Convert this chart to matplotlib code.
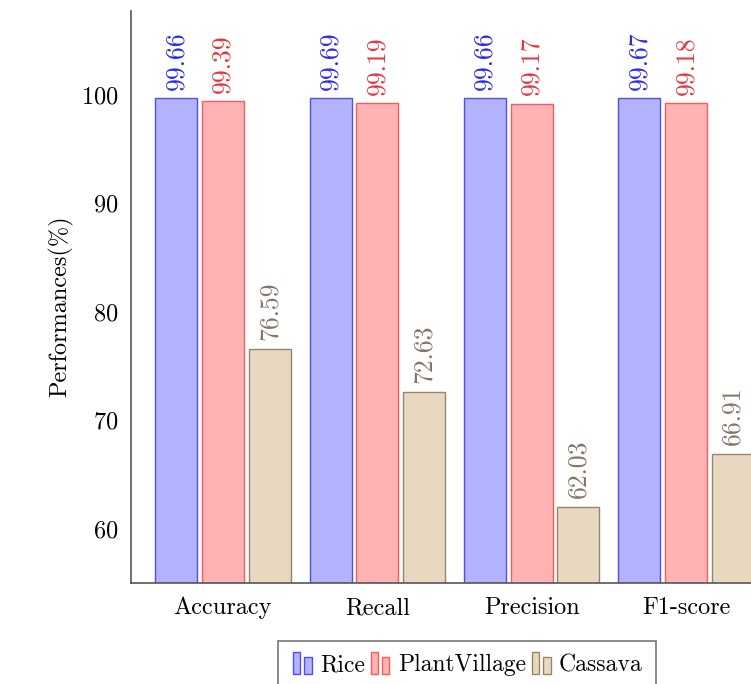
import matplotlib
matplotlib.use("Agg")
import matplotlib.pyplot as plt
import numpy as np
from matplotlib.legend_handler import HandlerBase
from matplotlib.patches import Rectangle

metrics = ["Accuracy", "Recall", "Precision", "F1-score"]
series_names = ["Rice", "PlantVillage", "Cassava"]
rice = [99.66, 99.69, 99.66, 99.67]
plantvillage = [99.39, 99.19, 99.17, 99.18]
cassava = [76.59, 72.63, 62.03, 66.91]

FILLS = ["#b3b3ff", "#ffb3b3", "#e8d8c2"]
EDGES = ["#4d4dff", "#ff5a5a", "#9a8466"]
LABEL_COLORS = ["#2a2ae6", "#e8323c", "#857565"]

plt.rcParams["font.family"] = ["cmr10", "DejaVu Serif"]
plt.rcParams["axes.formatter.use_mathtext"] = True
plt.rcParams["font.size"] = 17


class TwoBarHandler(HandlerBase):
    """pgfplots-style ybar legend icon: two small bars."""

    def create_artists(self, legend, orig_handle, xdescent, ydescent, width, height, fontsize, trans):
        fc = orig_handle.get_facecolor()
        ec = orig_handle.get_edgecolor()
        w = width * 0.3
        arts = []
        for x0, h in ((0.05, 1.3), (0.55, 1.0)):
            r = Rectangle((x0 * width - xdescent, -ydescent - 0.15 * height), w, height * h,
                          facecolor=fc, edgecolor=ec, linewidth=1.0, transform=trans)
            arts.append(r)
        return arts


fig = plt.figure(figsize=(7.51, 6.84), dpi=100, facecolor="white")
ax = fig.add_axes([131 / 751, 101 / 684, 647 / 751, 572 / 684])

x = np.arange(len(metrics))
step = 0.303
width = 0.272
handles = []
for i, (vals, name) in enumerate(zip([rice, plantvillage, cassava], series_names)):
    pos = x + (i - 1) * step
    bars = ax.bar(pos, vals, width=width, color=FILLS[i], edgecolor=EDGES[i],
                  linewidth=1.0, label=name)
    handles.append(bars[0])
    for xp, v in zip(pos, vals):
        ax.annotate(f"{v:.2f}", (xp, v), xytext=(0, 6), textcoords="offset points",
                    rotation=90, ha="center", va="bottom", color=LABEL_COLORS[i], fontsize=18.5)

ax.set_ylim(55, 107.7)
ax.set_xlim(-0.595, 3.595)
ax.set_yticks([60, 70, 80, 90, 100])
ax.set_xticks(x)
ax.set_xticklabels(metrics)
ax.tick_params(axis="both", length=0, labelsize=17.5)
ax.tick_params(axis="x", pad=10)
ax.tick_params(axis="y", pad=9)
ax.set_ylabel("Performances(%)", fontsize=17.5)
ax.yaxis.set_label_coords(-0.09, 0.484)
for spine in ("top", "right"):
    ax.spines[spine].set_visible(False)
for spine in ("left", "bottom"):
    ax.spines[spine].set_color("#555555")
    ax.spines[spine].set_linewidth(1.2)

leg = fig.legend(handles, series_names, handler_map={h: TwoBarHandler() for h in handles},
                 loc="upper center", bbox_to_anchor=(467 / 751, 1 - 641 / 684), ncol=3,
                 frameon=True, fancybox=False, edgecolor="#555555", fontsize=17,
                 handlelength=1.0, handletextpad=0.2, columnspacing=0.2, borderpad=0.55,
                 borderaxespad=0)
leg.get_frame().set_linewidth(1.2)

fig.savefig("out.png", dpi=100, facecolor="white")
